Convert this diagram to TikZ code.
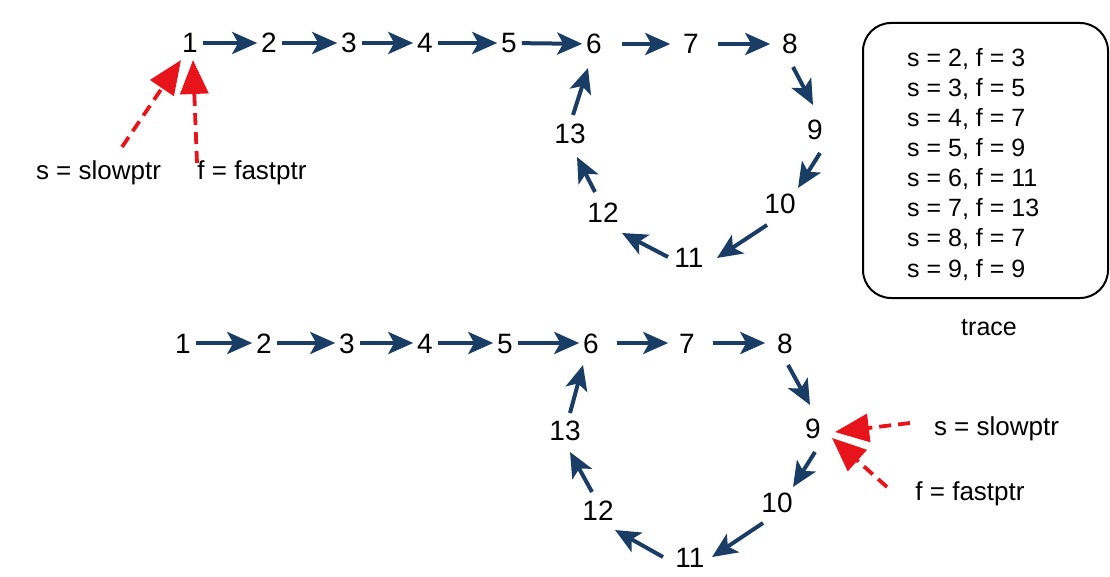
\documentclass[tikz,border=0pt]{standalone}
\usepackage{fontspec}
\setmainfont{Liberation Sans}
\usetikzlibrary{arrows.meta}
\definecolor{linknavy}{HTML}{1A3D66}
\definecolor{ptrred}{HTML}{E8141C}
\tikzset{
  num/.style={font=\fontsize{28}{34}\selectfont, text height=20pt, text depth=0pt,
    inner sep=3pt, outer sep=0pt},
  link/.style={draw=linknavy, line width=4pt,
    -{Stealth[length=25pt,width=22pt,inset=6pt]}, shorten <=2pt, shorten >=1pt},
  ptr/.style={draw=ptrred, line width=3.8pt, dash pattern=on 12pt off 7pt,
    -{Triangle[length=34pt,width=28pt]}},
  ptrlabel/.style={font=\fontsize{26}{31}\selectfont, inner sep=0pt, anchor=base},
  tracebox/.style={draw=black, line width=2pt, rounded corners=28pt,
    minimum width=245pt, minimum height=275pt, inner sep=0pt},
  traceline/.style={font=\fontsize{25}{30}\selectfont, inner sep=0pt, anchor=base west},
}
\begin{document}
\begin{tikzpicture}[x=1pt,y=-1pt]
\useasboundingbox[fill=white] (0,0) rectangle (1110,577);

% ---- list before the pointers meet ----
\node[num] (a1) at (190,43) {1};
\node[num] (a2) at (269,43) {2};
\node[num] (a3) at (349,43) {3};
\node[num] (a4) at (425,43) {4};
\node[num] (a5) at (509,43) {5};
\node[num] (a6) at (594,44) {6};
\node[num] (a7) at (691,44) {7};
\node[num] (a8) at (790,44) {8};
\node[num] (a9) at (815,130) {9};
\node[num] (a10) at (780,204) {10};
\node[num] (a11) at (689,258) {11};
\node[num] (a12) at (603,213) {12};
\node[num] (a13) at (570,134) {13};

\draw[link] (a1) -- (a2);
\draw[link] (a2) -- (a3);
\draw[link] (a3) -- (a4);
\draw[link] (a4) -- (a5);
\draw[link] (a5) -- (a6);
\draw[link, shorten <=17pt, shorten >=10pt] (a6) -- (a7);
\draw[link, shorten <=16pt, shorten >=9pt] (a7) -- (a8);
\draw[link, shorten <=0pt, shorten >=0pt] ([shift={(3,23)}]a8.center) -- ([shift={(-2,-25)}]a9.center);
\draw[link, shorten <=0pt, shorten >=0pt] ([shift={(5,23)}]a9.center) -- ([shift={(18,-16)}]a10.center);
\draw[link, shorten <=0pt, shorten >=0pt] ([shift={(-13,21)}]a10.center) -- ([shift={(28,0)}]a11.center);
\draw[link, shorten <=0pt, shorten >=0pt] ([shift={(-21,-1)}]a11.center) -- ([shift={(19,20)}]a12.center);
\draw[link, shorten <=0pt, shorten >=0pt] ([shift={(-8,-21)}]a12.center) -- ([shift={(7,23)}]a13.center);
\draw[link, shorten <=0pt, shorten >=0pt] ([shift={(3,-19)}]a13.center) -- ([shift={(-6,24)}]a6.center);

% pointers at the head
\node[ptrlabel] (sa) at (98.5,180) {s = slowptr};
\node[ptrlabel] (fa) at (252,180) {f = fastptr};
\draw[ptr] ([shift={(23.5,-33)}]sa.base) -- ([shift={(-9,17)}]a1.center);
\draw[ptr] ([shift={(-55,-17)}]fa.base) -- ([shift={(3,17)}]a1.center);

% ---- list where the pointers meet ----
\node[num] (b1) at (183,343) {1};
\node[num] (b2) at (264,343) {2};
\node[num] (b3) at (347,343) {3};
\node[num] (b4) at (425,343) {4};
\node[num] (b5) at (505,343) {5};
\node[num] (b6) at (591,343) {6};
\node[num] (b7) at (687,343) {7};
\node[num] (b8) at (785,343) {8};
\node[num] (b9) at (813,428) {9};
\node[num] (b10) at (777,502) {10};
\node[num] (b11) at (690,557) {11};
\node[num] (b12) at (598,510) {12};
\node[num] (b13) at (565,430) {13};

\draw[link] (b1) -- (b2);
\draw[link] (b2) -- (b3);
\draw[link] (b3) -- (b4);
\draw[link] (b4) -- (b5);
\draw[link] (b5) -- (b6);
\draw[link, shorten <=15pt, shorten >=8pt] (b6) -- (b7);
\draw[link, shorten <=15pt, shorten >=9pt] (b7) -- (b8);
\draw[link, shorten <=0pt, shorten >=0pt] ([shift={(3,22)}]b8.center) -- ([shift={(-3,-23)}]b9.center);
\draw[link, shorten <=0pt, shorten >=0pt] ([shift={(2,24)}]b9.center) -- ([shift={(16,-15)}]b10.center);
\draw[link, shorten <=0pt, shorten >=0pt] ([shift={(-14,21)}]b10.center) -- ([shift={(22,0)}]b11.center);
\draw[link, shorten <=0pt, shorten >=0pt] ([shift={(-27,0)}]b11.center) -- ([shift={(17,20)}]b12.center);
\draw[link, shorten <=0pt, shorten >=0pt] ([shift={(-6,-18)}]b12.center) -- ([shift={(5,22)}]b13.center);
\draw[link, shorten <=0pt, shorten >=0pt] ([shift={(5,-17)}]b13.center) -- ([shift={(-8,22)}]b6.center);

% pointers at the meeting point
\node[ptrlabel] (sb) at (996.5,435) {s = slowptr};
\node[ptrlabel] (fb) at (970,500) {f = fastptr};
\draw[ptr] ([shift={(-86.5,-12)}]sb.base) -- ([shift={(22,4)}]b9.center);
\draw[ptr] ([shift={(-83,-13)}]fb.base) -- ([shift={(19,10)}]b9.center);

% ---- trace of the two pointers ----
\node[tracebox] (trace) at (985.5,160.5) {};
\foreach \s/\f [count=\i] in {2/3,3/5,4/7,5/9,6/11,7/13,8/7,9/9}
  \node[traceline] (t\i) at (907,{67+30*(\i-1)}) {s = \s, f = \f};
\node[font=\fontsize{25}{30}\selectfont, inner sep=0pt, anchor=base] (tracelabel) at (989,335) {trace};
\end{tikzpicture}
\end{document}
